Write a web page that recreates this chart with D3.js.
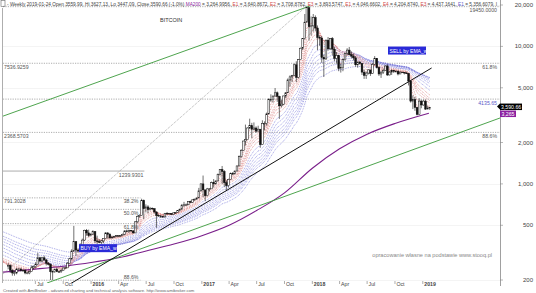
<!DOCTYPE html>
<html>
<head>
<meta charset="utf-8">
<script src="https://cdn.jsdelivr.net/npm/d3@7"></script>
<style>
body { margin: 0; background: #fff; }
svg { display: block; font-family: "Liberation Sans", Arial, sans-serif; }
</style>
</head>
<body>
<div id="chart"></div>
<script>
// weekly BTC closes before the visible window, only used to warm up the EMAs (from 2014-01-06)
var warmupStart = new Date(2014, 0, 6)
var warmupClose = [850, 830, 830, 800, 800, 650, 620, 560, 670, 635, 585, 495, 450, 450, 420, 495, 445,
  430, 450, 525, 580,
  655, 595, 600, 595, 630, 620, 625, 600, 585, 590, 525, 500, 480,
  475, 475, 400, 380, 330, 390, 390, 355, 325, 375, 400, 365, 375,
  360, 350, 330, 320, 315, 270, 210, 255, 225, 225, 235, 245, 275, 285, 290, 260, 250]

// visible weekly bars, 2015-03-30 .. 2019-01-21 (open = previous close)
var close = [
  255, 235, 225, 225, 240, 240, 235, 235, 225, 225, 230, 245, 250, 260, 290, 275, 290, 280, 265, 260, 230, 230, 240,
  230, 230, 235, 245, 245, 265, 285, 325, 380, 330, 325, 355, 390, 460, 440, 420, 430,
  450, 385, 380, 375, 385, 400, 440, 430, 405, 410, 415, 420, 420, 420, 430, 455, 450, 460, 455, 440, 530, 580,
  590, 760, 660, 680, 650, 665, 660, 625, 590, 585, 580, 575, 610, 608, 610, 600, 615, 620, 640, 655, 700, 705,
  705, 745, 735, 765, 775, 790, 890, 1000,
  905, 820, 920, 920, 1020, 1000, 1050, 1170, 1270, 1230, 1020, 970, 1080, 1190, 1180, 1240, 1350,
  1580, 1750, 2050, 2100, 2550, 2650, 2500, 2550, 2420, 2500, 1930, 2750, 2750, 3230, 4100, 4100, 4350, 4600,
  4330, 3700, 3800, 4360, 4600, 5700, 6000, 6150, 7350, 5950, 8000, 9700, 11400, 15000, 19100, 13900, 14100,
  16200, 13600, 11600, 11500, 8300, 8100, 11100, 9600, 11400, 9550, 8200, 8600, 6900, 7000, 8000, 8900, 9400, 8700,
  8500, 8250, 7350, 7700, 7500, 6500, 6150, 6400, 6750, 6350, 7400, 8200, 7000, 6300, 6500, 6700, 7200,
  6200, 6500, 6700, 6600, 6600, 6300, 6500, 6480, 6400, 6350, 5600, 4000, 4100, 3600, 3200, 4000, 3750, 4000,
  3500, 3559.99, 3590.66]
var high = [
  265, 260, 240, 235, 245, 245, 245, 240, 240, 230, 235, 255, 255, 270, 315, 295, 295, 300, 285, 270, 265, 235, 240,
  245, 235, 240, 245, 250, 270, 290, 335, 495, 380, 340, 370, 400, 465, 470, 465, 440,
  460, 450, 420, 395, 390, 400, 445, 445, 440, 420, 420, 425, 425, 425, 435, 460, 465, 465, 460, 460, 535, 590,
  600, 780, 770, 710, 700, 680, 675, 665, 630, 600, 590, 585, 615, 625, 615, 610, 620, 625, 645, 660, 715, 740,
  720, 750, 755, 770, 780, 795, 935, 1010,
  1150, 900, 935, 930, 1040, 1085, 1060, 1190, 1280, 1350, 1260, 1060, 1090, 1210, 1220, 1250, 1360,
  1610, 1790, 2060, 2700, 2580, 2980, 2780, 2800, 2620, 2650, 2500, 2900, 2850, 3300, 4200, 4480, 4400, 4980,
  4700, 4380, 4100, 4380, 4650, 5850, 6150, 6200, 7500, 7800, 8100, 9800, 11500, 17200, 19450, 19000, 16500,
  17200, 16800, 14200, 12000, 11900, 8700, 11200, 11700, 11500, 11700, 9900, 9100, 8700, 7500, 8200, 9000, 9700, 9900,
  9200, 8850, 8500, 7750, 7800, 7550, 6800, 6550, 6800, 6700, 7550, 8500, 8200, 7150, 6600, 6900, 7300,
  7400, 6600, 6800, 6750, 6700, 6700, 6600, 6520, 6450, 6550, 6400, 5600, 4400, 4300, 3600, 4200, 4100, 4100,
  4100, 3700, 3627.13]
var low = [
  240, 225, 215, 215, 220, 230, 230, 230, 220, 220, 220, 230, 240, 245, 260, 270, 270, 275, 255, 255, 200, 200, 225,
  228, 225, 225, 235, 240, 245, 265, 280, 320, 300, 315, 320, 350, 385, 420, 410, 415,
  425, 370, 365, 370, 365, 370, 400, 400, 400, 400, 405, 410, 410, 415, 420, 425, 445, 440, 445, 435, 440, 520,
  570, 590, 555, 620, 610, 640, 645, 610, 480, 575, 565, 565, 570, 600, 600, 595, 600, 605, 615, 630, 650, 680,
  695, 700, 725, 730, 755, 770, 790, 880,
  800, 750, 810, 880, 920, 940, 990, 1050, 1150, 1000, 950, 900, 940, 1080, 1160, 1180, 1240,
  1350, 1550, 1740, 1900, 2150, 2500, 2150, 2450, 2350, 2450, 1830, 1920, 2450, 2650, 3200, 3950, 3900, 4350,
  3950, 2970, 3600, 3750, 4200, 4600, 5100, 5500, 6100, 5500, 5850, 8000, 9400, 11200, 15000, 11000, 12000,
  12800, 12900, 9400, 10100, 7600, 6000, 8000, 9300, 9400, 8600, 7800, 7500, 6600, 6450, 6600, 7850, 8600, 8600,
  8200, 7900, 7100, 7000, 7350, 6200, 5800, 5800, 6250, 6100, 6300, 7300, 6900, 6100, 5900, 6300, 6650,
  6100, 6150, 6200, 6400, 6450, 6150, 6350, 6400, 6250, 6300, 5200, 3900, 3500, 3400, 3150, 3200, 3550, 3700,
  3450, 3500, 3447.09]

// guppy style EMA ribbon periods
var emaShort = [3, 5, 8, 10, 12, 15]
var emaLong = [20, 25, 30, 35, 40, 45, 50, 60]

// MA200
var maDates = ['2015-03-16', '2015-07-01', '2015-10-01', '2016-01-01', '2016-04-01', '2016-07-01', '2016-10-01',
  '2017-01-01', '2017-04-01', '2017-07-01', '2017-10-01', '2018-01-01', '2018-04-01', '2018-07-01', '2018-10-01', '2019-01-21']
var maValues = [228, 240, 252, 268, 290, 325, 365, 420, 500, 640, 860, 1300, 1800, 2300, 2750, 3265]

// hand drawn trend lines [date, price]
var greenUpper = [['2015-03-16', 3110], ['2017-12-24', 19670]]
var greenLower = [['2015-08-08', 190], ['2019-09-13', 3015]]
var blackLine = [['2015-10-18', 184], ['2019-01-30', 6964]]
var dottedLine = [['2015-03-16', 221], ['2017-12-11', 19450]]

// fibonacci levels
var fibBig = [19450, 7536.9259, 2368.5703]
var fibBigPct = ['19450.0000', '61.8%', '88.6%']
var fibBigLeft = ['', '7536.9259', '2368.5703']
var levelLine = 4135.65
var fibSmall = [791.3028, 652.7, 514.1, 199.4]
var fibSmallPct = ['38.2%', '50.0%', '61.8%', '88.6%']
var fibTop = 1239.9301

var yTicks = [200, 500, 1000, 2000, 5000, 10000, 20000]

var width = 536,
    height = 293,
    plotLeft = 3,
    plotRight = 500,
    plotBottom = 283

var parse = d3.timeParse('%Y-%m-%d')

var xScale = d3.scaleTime()
  .domain([new Date(2015, 2, 16), new Date(2019, 8, 13)])
  .range([plotLeft, plotRight])

var yScale = d3.scaleLog()
  .domain([200, 20000])
  .range([280, 5])

var allClose = warmupClose.concat(close)
var dates = allClose.map(function(d, i){ return d3.timeDay.offset(d3.timeWeek.offset(warmupStart, i), 3) })
var off = warmupClose.length

function ema(values, n){
  var k = 2 / (n + 1), prev = values[0]
  return values.map(function(v, i){
    prev = i === 0 ? v : v * k + prev * (1 - k)
    return prev
  })
}

var svg = d3.select('#chart').append('svg')
  .attr('width', width)
  .attr('height', height)

svg.append('defs').append('clipPath').attr('id', 'plot')
  .append('rect').attr('x', plotLeft).attr('y', 0).attr('width', plotRight - plotLeft).attr('height', plotBottom)

var plot = svg.append('g').attr('clip-path', 'url(#plot)')

// grid
plot.selectAll('line.grid').data(yTicks).enter().append('line')
  .attr('x1', plotLeft).attr('x2', plotRight)
  .attr('y1', function(d){ return Math.round(yScale(d)) + 0.5 })
  .attr('y2', function(d){ return Math.round(yScale(d)) + 0.5 })
  .style('stroke', '#ececec').style('stroke-width', 0.6)

// big fib set
plot.selectAll('line.fibBig').data(fibBig).enter().append('line')
  .attr('x1', plotLeft).attr('x2', plotRight)
  .attr('y1', function(d){ return yScale(d) }).attr('y2', function(d){ return yScale(d) })
  .style('stroke', '#777').style('stroke-width', 0.6).style('stroke-dasharray', '1.2,1.2')

plot.append('line')
  .attr('x1', plotLeft).attr('x2', plotRight)
  .attr('y1', yScale(levelLine)).attr('y2', yScale(levelLine))
  .style('stroke', '#777').style('stroke-width', 0.6).style('stroke-dasharray', '1.2,1.2')

// small fib set
var topEnd = xScale(new Date(2016, 5, 25))
var smallEnd = xScale(new Date(2016, 5, 12))
plot.append('line')
  .attr('x1', plotLeft).attr('x2', topEnd)
  .attr('y1', yScale(fibTop)).attr('y2', yScale(fibTop))
  .style('stroke', '#888').style('stroke-width', 0.7)
plot.selectAll('line.fibSmall').data(fibSmall).enter().append('line')
  .attr('x1', plotLeft).attr('x2', smallEnd)
  .attr('y1', function(d){ return yScale(d) }).attr('y2', function(d){ return yScale(d) })
  .style('stroke', '#777').style('stroke-width', 0.6).style('stroke-dasharray', '1.2,1.2')

// EMA ribbon
function ribbon(periods, color){
  periods.forEach(function(p){
    var vals = ema(allClose, p)
    var line = d3.line()
      .x(function(d, i){ return xScale(dates[i]) })
      .y(function(d){ return yScale(d) })
    plot.append('path').datum(vals)
      .attr('d', line)
      .style('fill', 'none')
      .style('stroke', color)
      .style('stroke-width', 0.7)
      .style('stroke-dasharray', '0.8,1')
  })
}
ribbon(emaLong, '#6b6bd6')
ribbon(emaShort, '#d46a6a')

// MA200
var maLine = d3.line()
  .x(function(d, i){ return xScale(parse(maDates[i])) })
  .y(function(d){ return yScale(d) })
  .curve(d3.curveMonotoneX)
plot.append('path').datum(maValues)
  .attr('d', maLine)
  .style('fill', 'none').style('stroke', '#7a1f8a').style('stroke-width', 1.1)

// trend lines
function trend(pts, color, w, dash){
  plot.append('line')
    .attr('x1', xScale(parse(pts[0][0]))).attr('y1', yScale(pts[0][1]))
    .attr('x2', xScale(parse(pts[1][0]))).attr('y2', yScale(pts[1][1]))
    .style('stroke', color).style('stroke-width', w)
    .style('stroke-dasharray', dash || null)
}
trend(greenUpper, '#3a9a3a', 0.9)
trend(greenLower, '#3a9a3a', 0.9)
trend(dottedLine, '#777', 0.6, '1,1')

// candles
var candles = close.map(function(c, i){
  return {
    date: dates[i + off],
    open: allClose[i + off - 1],
    close: c,
    high: high[i],
    low: low[i]
  }
})
var cw = 1.7
var cg = plot.selectAll('g.candle').data(candles).enter().append('g')
cg.append('line')
  .attr('x1', function(d){ return xScale(d.date) }).attr('x2', function(d){ return xScale(d.date) })
  .attr('y1', function(d){ return yScale(d.high) }).attr('y2', function(d){ return yScale(d.low) })
  .style('stroke', '#111').style('stroke-width', 0.6)
cg.append('rect')
  .attr('x', function(d){ return xScale(d.date) - cw / 2 })
  .attr('width', cw)
  .attr('y', function(d){ return yScale(Math.max(d.open, d.close)) })
  .attr('height', function(d){ return Math.max(0.6, yScale(Math.min(d.open, d.close)) - yScale(Math.max(d.open, d.close))) })
  .style('fill', function(d){ return d.close >= d.open ? '#fff' : '#111' })
  .style('stroke', '#111').style('stroke-width', 0.5)

trend(blackLine, '#111', 1)

// fib labels
var lab = svg.append('g').style('font-size', '5.2px').style('fill', '#555')
lab.selectAll('text.pct').data(fibBig).enter().append('text')
  .attr('x', 497).attr('y', function(d){ return yScale(d) + 5.5 })
  .attr('text-anchor', 'end')
  .text(function(d, i){ return fibBigPct[i] })
lab.selectAll('text.left').data(fibBig).enter().append('text')
  .attr('x', 4).attr('y', function(d){ return yScale(d) + 5.5 })
  .text(function(d, i){ return fibBigLeft[i] })
lab.append('text')
  .attr('x', 497).attr('y', yScale(levelLine) + 5.5)
  .attr('text-anchor', 'end').style('fill', '#5a5ac8')
  .text(d3.format('.2f')(levelLine))
lab.selectAll('text.spct').data(fibSmall).enter().append('text')
  .attr('x', smallEnd - 2)
  .attr('y', function(d, i){ return i === fibSmall.length - 1 ? yScale(d) - 0.8 : yScale(d) + 5.5 })
  .attr('text-anchor', 'end')
  .text(function(d, i){ return fibSmallPct[i] })
lab.append('text')
  .attr('x', 4).attr('y', yScale(fibSmall[0]) + 5.5)
  .text(d3.format('.4f')(fibSmall[0]))
lab.append('text')
  .attr('x', topEnd - 1).attr('y', yScale(fibTop) + 5.5)
  .attr('text-anchor', 'end')
  .text(d3.format('.4f')(fibTop))

// BUY / SELL tags
function tag(txt, date, value){
  var x = xScale(parse(date)), y = yScale(value)
  svg.append('rect').attr('x', x).attr('y', y - 4.5).attr('width', 38).attr('height', 8)
    .style('fill', '#2a2ad8')
  svg.append('text').attr('x', x + 1.5).attr('y', y + 1.8)
    .style('font-size', '5.1px').style('fill', '#fff')
    .text(txt)
}
tag('SELL by EMA_w', '2018-09-08', 9250)
tag('BUY by EMA_w', '2015-11-22', 338)

// right axis
svg.append('line')
  .attr('x1', plotRight + 0.5).attr('x2', plotRight + 0.5)
  .attr('y1', 0).attr('y2', 286)
  .style('stroke', '#888').style('stroke-width', 0.8)
svg.append('line')
  .attr('x1', 2.5).attr('x2', 2.5)
  .attr('y1', 8).attr('y2', plotBottom)
  .style('stroke', '#999').style('stroke-width', 0.8)
svg.selectAll('line.ytick').data(yTicks).enter().append('line')
  .attr('x1', plotRight).attr('x2', plotRight + 3)
  .attr('y1', function(d){ return yScale(d) }).attr('y2', function(d){ return yScale(d) })
  .style('stroke', '#888').style('stroke-width', 0.6)
svg.selectAll('text.ytick').data(yTicks).enter().append('text')
  .attr('x', 533).attr('y', function(d){ return yScale(d) + 2 })
  .attr('text-anchor', 'end')
  .style('font-size', '6px').style('fill', '#444')
  .text(d3.format(','))

// last price boxes
var lastClose = close[close.length - 1]
var lastMa = maValues[maValues.length - 1]
var yc = yScale(lastClose)
svg.append('path')
  .attr('d', 'M' + (plotRight - 3) + ',' + (yc - 1) + 'L' + plotRight + ',' + (yc - 4) + 'L' + plotRight + ',' + (yc + 2) + 'Z')
  .style('fill', '#000')
svg.append('rect').attr('x', plotRight).attr('y', yc - 4).attr('width', 22).attr('height', 6.5).style('fill', '#000')
svg.append('text').attr('x', plotRight + 1).attr('y', yc + 1)
  .style('font-size', '5.2px').style('fill', '#fff').text(d3.format(',.2f')(lastClose))
svg.append('rect').attr('x', plotRight).attr('y', yc + 3).attr('width', 16).attr('height', 6.5).style('fill', '#8b1fa0')
svg.append('text').attr('x', plotRight + 1.5).attr('y', yc + 8)
  .style('font-size', '5.2px').style('fill', '#fff').text(d3.format(',')(lastMa))

// x axis
var xTicks = d3.timeMonth.every(3).range(new Date(2015, 6, 1), new Date(2019, 1, 1))
var monthName = d3.timeFormat('%b')
svg.selectAll('line.xtick').data(xTicks).enter().append('line')
  .attr('x1', function(d){ return xScale(d) }).attr('x2', function(d){ return xScale(d) })
  .attr('y1', 281).attr('y2', 284)
  .style('stroke', '#777').style('stroke-width', 0.6)
svg.selectAll('text.xtick').data(xTicks).enter().append('text')
  .attr('x', function(d){ return xScale(d) + 1.5 })
  .attr('y', 285.5)
  .style('font-size', '5.2px')
  .style('font-weight', function(d){ return d.getMonth() === 0 ? 'bold' : 'normal' })
  .style('fill', '#444')
  .text(function(d){ return d.getMonth() === 0 ? d.getFullYear() : monthName(d) })

// header
svg.append('rect').attr('x', 1).attr('y', 0.5).attr('width', 4).attr('height', 6)
  .style('fill', 'none').style('stroke', '#666').style('stroke-width', 0.6)
var header = svg.append('text').attr('x', 7).attr('y', 5.5)
  .style('font-size', '4.6px').style('fill', '#444')
  .attr('textLength', 490).attr('lengthAdjust', 'spacingAndGlyphs')
var parts = [
  ['- Weekly 2019-01-24 Open 3559.99, Hi 3627.13, Lo 3447.09, Close 3590.66 (-1.0%) ', '#444'],
  ['MA200', '#8b1fa0'], [' = 3,264.9956, ', '#444'],
  ['E1', '#d04848'], [' = 3,640.8672, ', '#444'],
  ['E2', '#d04848'], [' = 3,708.8782, ', '#444'],
  ['E3', '#d04848'], [' = 3,893.5747, ', '#444'],
  ['E1', '#d04848'], [' = 4,046.6602, ', '#444'],
  ['E4', '#d04848'], [' = 4,204.8740, ', '#444'],
  ['E3', '#d04848'], [' = 4,437.1641, ', '#444'],
  ['E1', '#5a5ac8'], [' = 5,356.6079, I', '#444']
]
parts.forEach(function(p){ header.append('tspan').style('fill', p[1]).text(p[0]) })

svg.append('text').attr('x', 160).attr('y', 22)
  .style('font-size', '5.5px').style('fill', '#333').text('BITCOIN')

svg.append('text').attr('x', 492).attr('y', 257)
  .attr('text-anchor', 'end')
  .style('font-size', '5.6px').style('fill', '#888')
  .text('opracowanie własne na podstawie www.stooq.pl')

svg.append('text').attr('x', 3).attr('y', 291.5)
  .style('font-size', '4.2px').style('fill', '#666')
  .text('Created with AmiBroker - advanced charting and technical analysis software. http://www.amibroker.com')
</script>
</body>
</html>
